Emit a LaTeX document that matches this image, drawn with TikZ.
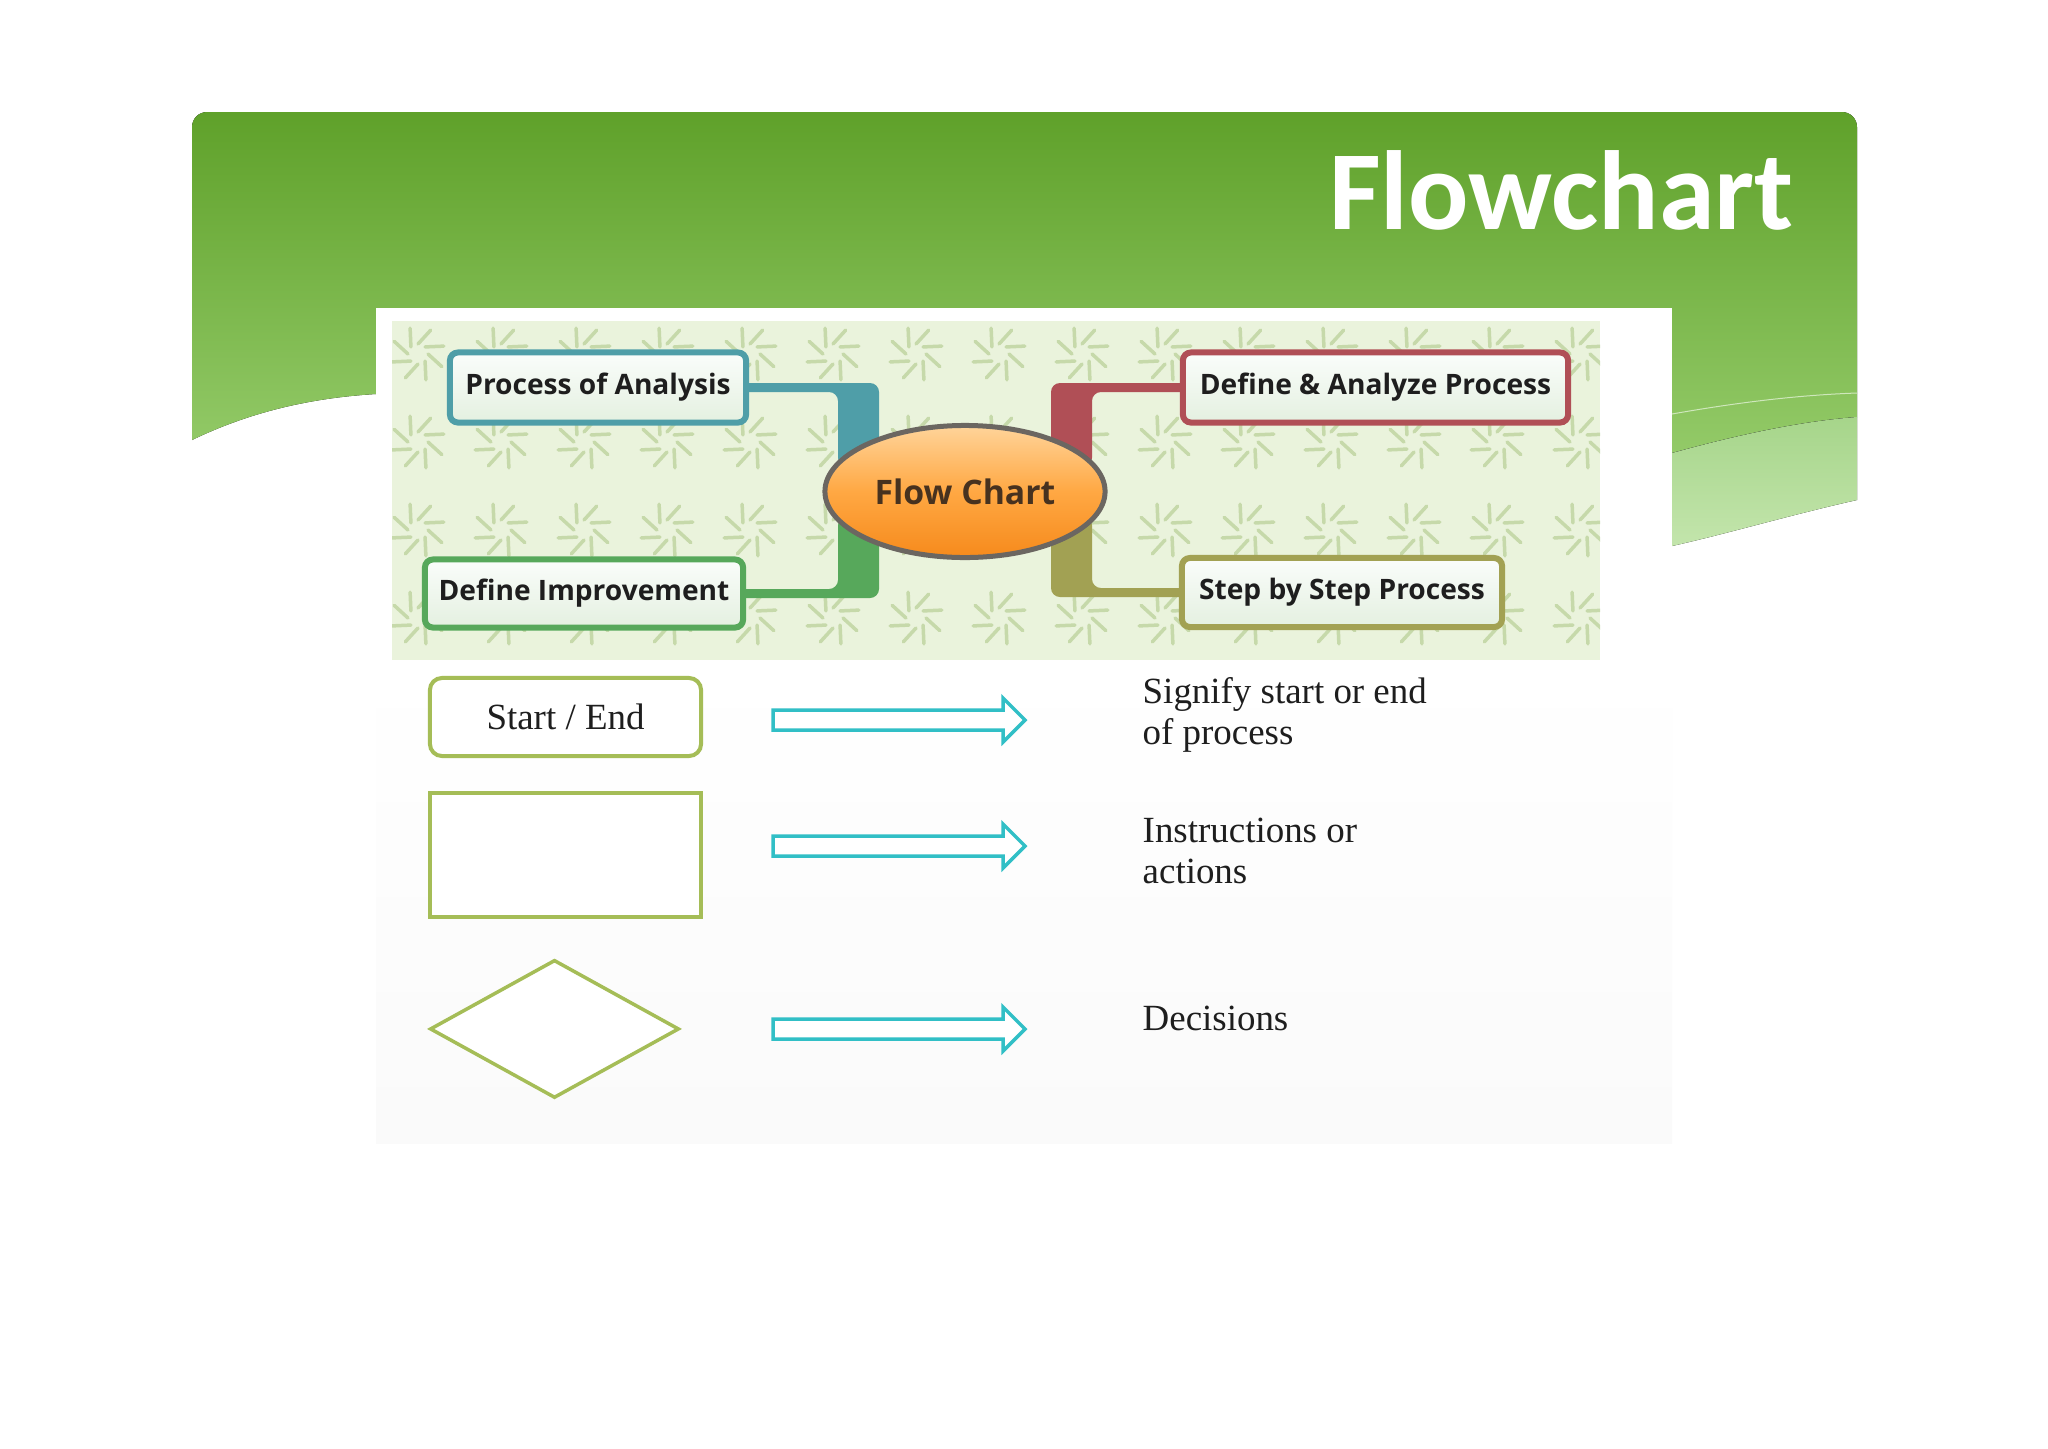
\documentclass[tikz,border=0pt]{standalone}
\usepackage{fontspec}
\setmainfont{Liberation Serif}
\newfontfamily\boxfont{Open Sans}
\newfontfamily\titlefont{Carlito}
\usepackage{tikz}
\usetikzlibrary{positioning,calc,shapes.geometric}
\definecolor{hdrtop}{HTML}{5FA12A}
\definecolor{hdrbot}{HTML}{93CA68}
\definecolor{bandtop}{HTML}{A6D58A}
\definecolor{bandbot}{HTML}{C3E5AC}
\definecolor{patbg}{HTML}{EAF3DC}
\definecolor{patleaf}{HTML}{C6D9AA}
\definecolor{cteal}{HTML}{4F9EA8}
\definecolor{cgreen}{HTML}{57A85B}
\definecolor{cred}{HTML}{B04F56}
\definecolor{colive}{HTML}{A2A153}
\definecolor{boxtop}{HTML}{FAFDFB}
\definecolor{boxbot}{HTML}{E4F0E0}
\definecolor{rimgray}{HTML}{6B6661}
\definecolor{orgtop}{HTML}{FFD49A}
\definecolor{orgmid}{HTML}{FFA843}
\definecolor{orgbot}{HTML}{F68A1C}
\definecolor{fctext}{HTML}{47321F}
\definecolor{legline}{HTML}{A5BD57}
\definecolor{arrcyan}{HTML}{31BFC6}
\definecolor{txtdark}{HTML}{1E1E1E}
\pgfdeclarelayer{bg}
\pgfdeclarelayer{links}
\pgfsetlayers{bg,links,main}
\tikzset{
  mm_box/.style = {rectangle, rounded corners=0.08cm, line width=0.06cm,
    inner sep=0pt, top color=boxtop, bottom color=boxbot,
    minimum height=0.70cm, text=txtdark,
    font=\boxfont\bfseries\fontsize{8}{9.6}\selectfont},
  mm_root/.style = {ellipse, draw=rimgray, line width=0.05cm, inner sep=0pt,
    minimum width=2.80cm, minimum height=1.32cm,
    top color=orgtop, bottom color=orgbot, middle color=orgmid,
    text=fctext, font=\boxfont\bfseries\fontsize{9.6}{11}\selectfont},
  mm_link/.style = {fill=#1, rounded corners=0.09cm},
  leg_term/.style = {rectangle, rounded corners=0.12cm, draw=legline,
    line width=0.04cm, fill=white, minimum width=2.71cm,
    minimum height=0.78cm, text=txtdark,
    font=\fontsize{10.5}{11.4}\selectfont},
  leg_proc/.style = {rectangle, draw=legline, line width=0.04cm, fill=white,
    minimum width=2.71cm, minimum height=1.24cm},
  leg_dec/.style = {diamond, draw=legline, line width=0.035cm, fill=white,
    inner sep=0pt, minimum width=2.49cm, minimum height=1.38cm},
  leg_arrow/.style = {draw=arrcyan, line width=0.035cm, fill=white,
    line join=miter},
  leg_text/.style = {anchor=base west, align=left, inner sep=0pt,
    text=txtdark, font=\fontsize{10.5}{11.4}\selectfont},
  leaf/.style = {draw=patleaf, line width=0.035cm, line cap=round}
}

\begin{document}
\begin{tikzpicture}[x=0.01cm, y=-0.01cm]
\useasboundingbox (0,0) rectangle (2048,1448);

% slide background
\begin{pgfonlayer}{bg}
\fill[white] (0,0) rectangle (2048,1448);
\fill[top color=hdrtop, bottom color=hdrbot] (192,440)
  {[rounded corners=0.15cm] -- (192,112) -- (1857,112)} -- (1857,417)
  .. controls (1790,422) and (1720,440) .. (1672,453) -- (376,394)
  .. controls (310,398) and (250,412) .. (192,440) -- cycle;
\fill[top color=bandtop, bottom color=bandbot] (1672,453)
  .. controls (1720,440) and (1790,422) .. (1857,417) -- (1857,500)
  .. controls (1790,515) and (1730,533) .. (1672,546) -- cycle;
\draw[white!55!hdrbot, line width=0.01cm] (1672,414)
  .. controls (1740,402) and (1800,395) .. (1857,393);
\fill[white] (376,308) rectangle (1672,1143);
\fill[top color=white, bottom color=black!2] (376,660) rectangle (1672,1143);
% leaf pattern
\fill[patbg] (392,321) rectangle (1600,660);
\begin{scope}
  \clip (392,321) rectangle (1600,660);
  \foreach \cx in {418,501,...,1650}
    \foreach \cy in {354,442,530,618}
      \foreach \a in {0,45,...,315}
        \draw[leaf] ($(\cx,\cy)+(\a:10)$) -- ($(\cx,\cy)+(\a+28:27)$);
\end{scope}
\end{pgfonlayer}

\node[anchor=base east, text=white,
  font=\titlefont\bfseries\fontsize{32}{37}\selectfont] (ttl) at (1806,229) {Flowchart};

% mind map
\node[mm_box, draw=cteal, minimum width=2.96cm] (poa) at (598,387.5) {Process of Analysis};
\node[mm_box, draw=cgreen, minimum width=3.18cm, minimum height=0.68cm] (dim) at (584,593.5) {Define Improvement};
\node[mm_box, draw=cred, minimum width=3.85cm] (dai) at (1375.5,387.5) {Define \& Analyze Process};
\node[mm_box, draw=colive, minimum width=3.20cm, minimum height=0.69cm] (sbs) at (1342,592.5) {Step by Step Process};
\node[mm_root] (fc) at (965,491.5) {Flow Chart};

\begin{pgfonlayer}{links}
\fill[mm_link=cteal] ($(poa.east)+(-12,-4.5)$) -| ($(fc.center)+(-86,-25)$)
  -- ($(fc.center)+(-127,-25)$) |- ($(poa.east)+(-12,4.5)$) -- cycle;
\fill[mm_link=cred] ($(dai.west)+(12,-4.5)$) -| ($(fc.center)+(86,-25)$)
  -- ($(fc.center)+(127,-25)$) |- ($(dai.west)+(12,4.5)$) -- cycle;
\fill[mm_link=cgreen] ($(dim.east)+(-12,4.5)$) -| ($(fc.center)+(-86,25)$)
  -- ($(fc.center)+(-127,25)$) |- ($(dim.east)+(-12,-4.5)$) -- cycle;
\fill[mm_link=colive] ($(sbs.west)+(12,4.5)$) -| ($(fc.center)+(86,25)$)
  -- ($(fc.center)+(127,25)$) |- ($(sbs.west)+(12,-4.5)$) -- cycle;
\end{pgfonlayer}

% legend
\node[leg_term] (term) at (565.5,717) {Start / End};
\node[leg_proc, below=0.33cm of term] (proc) {};
\node[leg_dec, below=0.39cm of proc, xshift=-0.11cm] (dec) {};

\coordinate (ar1) at (773,720);
\coordinate (ar2) at (773,846);
\coordinate (ar3) at (773,1029);
\foreach \n in {ar1,ar2,ar3}
  \draw[leg_arrow] (\n) -- ++(0,-10) -- ++(230,0) -- ++(0,-12) -- ++(22,22)
    -- ++(-22,22) -- ++(0,-12) -- ++(-230,0) -- cycle;

% base of the last line
\node[leg_text] (t1) at (1142,744) {Signify start or end\\of process};
\node[leg_text] (t2) at (1142,883) {Instructions or\\actions};
\node[leg_text] (t3) at (1142,1030) {Decisions};
\end{tikzpicture}
\end{document}
